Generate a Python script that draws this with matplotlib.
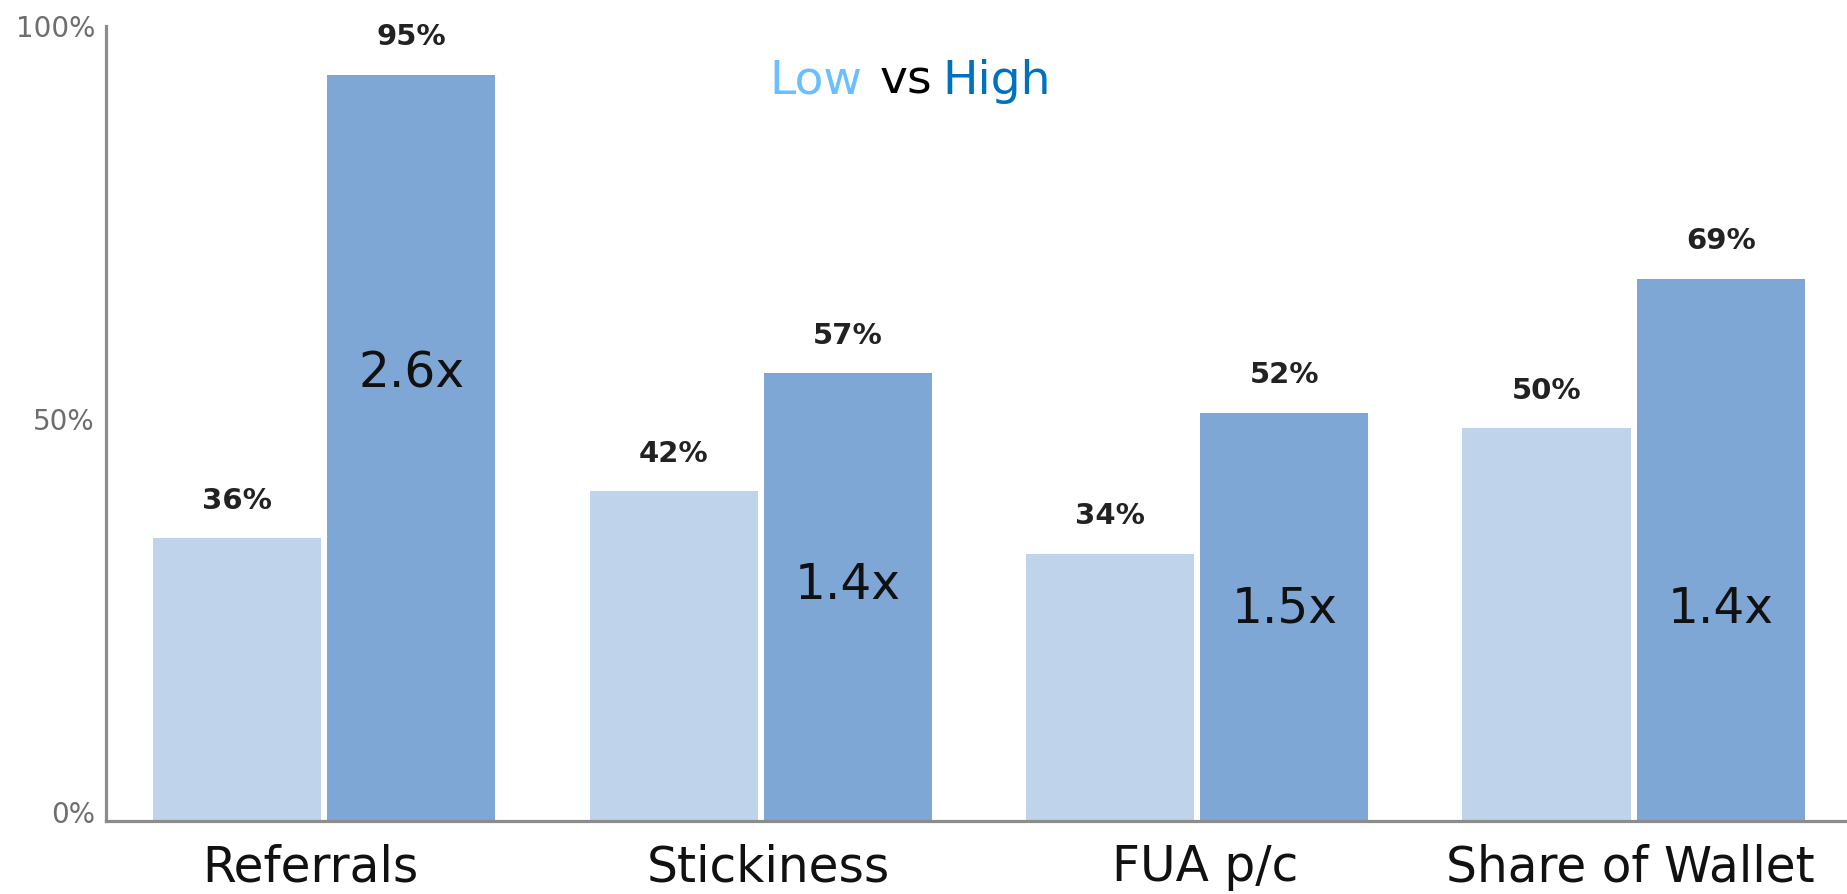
import numpy as np
import matplotlib
matplotlib.use("Agg")
import matplotlib.pyplot as plt
from matplotlib.transforms import ScaledTranslation

categories = ["Referrals", "Stickiness", "FUA p/c", "Share of Wallet"]
low = [36, 42, 34, 50]
high = [95, 57, 52, 69]
ratios = ["2.6x", "1.4x", "1.5x", "1.4x"]
ratio_y = [57, 30, 27, 27]   # where the ratio text sits inside the high bar
label_dx = [-14, 8, 8, -3]   # small pixel nudges of the category labels

LOW_COLOR = "#bfd3ea"
HIGH_COLOR = "#7fa7d5"
AXIS_COLOR = "#8c8c8c"

fig = plt.figure(figsize=(18.47, 8.94), dpi=100)
ax = fig.add_axes([106 / 1847, 73 / 894, 1 - 106 / 1847, 795 / 894])

x = np.arange(len(categories))
w = 0.385
off = w / 2 + 0.007

bars_low = ax.bar(x - off, low, w, color=LOW_COLOR)
bars_high = ax.bar(x + off, high, w, color=HIGH_COLOR)

# value labels above bars
for bars, vals in [(bars_low, low), (bars_high, high)]:
    for b, v in zip(bars, vals):
        ax.annotate(f"{v}%", (b.get_x() + b.get_width() / 2, v),
                    xytext=(0, 27), textcoords="offset points",
                    ha="center", va="center", fontsize=21,
                    fontweight="bold", color="#222222")

# ratio text inside the high bars
for b, r, ry in zip(bars_high, ratios, ratio_y):
    ax.text(b.get_x() + b.get_width() / 2, ry, r, ha="center", va="center",
            fontsize=35, color="#111111")

ax.set_xlim(-0.5, 3.489)
ax.set_ylim(0, 101.2)

ax.set_yticks([0, 50, 100])
ax.set_yticklabels(["0%", "50%", "100%"], fontsize=20, color="#6e6e6e")
ax.set_xticks(x)
ax.set_xticklabels(categories, fontsize=35, color="#111111")
ax.tick_params(axis="both", length=0)
ax.tick_params(axis="y", pad=8)
ax.tick_params(axis="x", pad=16)

# nudge y tick labels up a little, like the reference
for lab in ax.get_yticklabels():
    lab.set_transform(lab.get_transform() + ScaledTranslation(0, 9 / 100, fig.dpi_scale_trans))
for lab, dx in zip(ax.get_xticklabels(), label_dx):
    lab.set_transform(lab.get_transform() + ScaledTranslation(dx / 100, 0, fig.dpi_scale_trans))

for s in ["top", "right"]:
    ax.spines[s].set_visible(False)
for s in ["left", "bottom"]:
    ax.spines[s].set_color(AXIS_COLOR)
    ax.spines[s].set_linewidth(2.3)

# two-coloured title
ty = 1 - 94 / 894
fig.text(862 / 1847, ty, "Low", ha="right", va="baseline", fontsize=34, color="#6cbfff")
fig.text(906 / 1847, ty, "vs", ha="center", va="baseline", fontsize=34, color="#000000")
fig.text(942 / 1847, ty, "High", ha="left", va="baseline", fontsize=34, color="#0070c0")

fig.savefig("out.png", dpi=100)
